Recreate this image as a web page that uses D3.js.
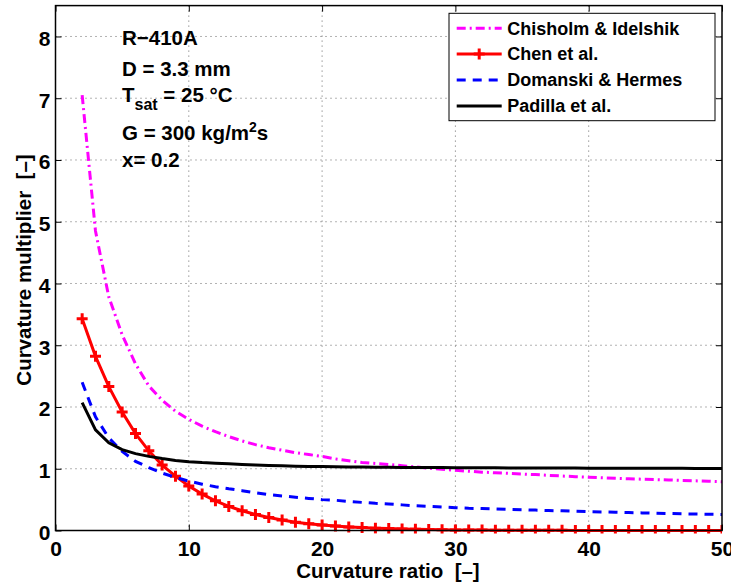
<!DOCTYPE html>
<html><head><meta charset="utf-8">
<script src="https://cdn.jsdelivr.net/npm/d3@7"></script>
<style>body{margin:0;background:#fff}svg{display:block}text{font-family:"Liberation Sans",Arial,sans-serif;font-weight:bold}</style>
</head><body><svg id="c" width="731" height="584"></svg>
<script>
const xValues = [2,3,4,5,6,7,8,9,10,11,12,13,14,15,16,17,18,19,20,21,22,23,24,25,26,27,28,29,30,31,32,33,34,35,36,37,38,39,40,41,42,43,44,45,46,47,48,49,50];
const chisholm = [7.05,4.85,3.78,3.17,2.70,2.34,2.11,1.93,1.80,1.69,1.60,1.52,1.45,1.39,1.34,1.30,1.26,1.23,1.20,1.16,1.13,1.10,1.085,1.07,1.05,1.03,1.01,0.99,0.975,0.96,0.945,0.935,0.925,0.915,0.905,0.893,0.882,0.872,0.862,0.855,0.846,0.838,0.831,0.825,0.818,0.811,0.804,0.797,0.79];
const chen = [3.43,2.82,2.33,1.92,1.57,1.29,1.06,0.88,0.72,0.59,0.48,0.39,0.32,0.26,0.21,0.17,0.135,0.11,0.09,0.072,0.058,0.047,0.038,0.031,0.025,0.02,0.016,0.013,0.01,0.008,0.007,0.006,0.005,0.004,0.004,0.003,0.003,0.002,0.002,0.002,0.002,0.001,0.001,0.001,0.001,0.001,0.001,0.001,0.001];
const domanski = [2.40,1.84,1.50,1.28,1.12,1.02,0.93,0.86,0.80,0.75,0.71,0.675,0.645,0.61,0.58,0.56,0.54,0.52,0.50,0.49,0.47,0.455,0.44,0.43,0.415,0.40,0.39,0.38,0.37,0.36,0.355,0.35,0.343,0.337,0.33,0.324,0.318,0.311,0.305,0.30,0.295,0.29,0.285,0.28,0.275,0.27,0.267,0.263,0.26];
const padilla = [2.07,1.63,1.42,1.31,1.245,1.20,1.165,1.135,1.115,1.10,1.09,1.08,1.07,1.06,1.053,1.047,1.042,1.038,1.035,1.032,1.03,1.028,1.026,1.024,1.022,1.021,1.02,1.019,1.018,1.017,1.016,1.015,1.014,1.013,1.012,1.012,1.011,1.011,1.01,1.01,1.009,1.009,1.008,1.008,1.007,1.007,1.006,1.006,1.005];
const seriesNames = ["Chisholm & Idelshik","Chen et al.","Domanski & Hermes","Padilla et al."];
const seriesColors = ["#ff00ff","#ff0000","#0000ff","#000000"];
const seriesDash = ["9,4,2,4",null,"9,7",null];
const xTicks = [0,10,20,30,40,50];
const yTicks = [0,1,2,3,4,5,6,7,8];
const annotations = ["R\u2212410A","D = 3.3 mm","T_sat = 25 \u00B0C","G = 300 kg/m2s","x= 0.2"];

const svg = d3.select("#c");
const L=55.5, R=722, T=5.6, B=530.5;
const x = d3.scaleLinear().domain([0,50]).range([L,R]);
const y = d3.scaleLinear().domain([0,8.5]).range([B,T]);

// grid
const g = svg.append("g");
g.selectAll(".gx").data(xTicks.filter(d=>d>0&&d<50)).enter().append("line")
 .attr("x1",d=>x(d)).attr("x2",d=>x(d)).attr("y1",T).attr("y2",B)
 .attr("stroke","#666").attr("stroke-width",1).attr("stroke-dasharray","1,4");
g.selectAll(".gy").data(yTicks.filter(d=>d>0)).enter().append("line")
 .attr("y1",d=>y(d)).attr("y2",d=>y(d)).attr("x1",L).attr("x2",R)
 .attr("stroke","#666").attr("stroke-width",1).attr("stroke-dasharray","1,4");

// axes (ticks inside)
const tl=6;
const axB = svg.append("g").attr("transform",`translate(0,${B})`).call(d3.axisBottom(x).tickValues(xTicks).tickSize(-tl).tickPadding(11));
const axT = svg.append("g").attr("transform",`translate(0,${T})`).call(d3.axisTop(x).tickValues(xTicks).tickSize(-tl).tickFormat(""));
const axL = svg.append("g").attr("transform",`translate(${L},0)`).call(d3.axisLeft(y).tickValues(yTicks).tickSize(-tl).tickPadding(5));
const axR = svg.append("g").attr("transform",`translate(${R},0)`).call(d3.axisRight(y).tickValues(yTicks).tickSize(-tl).tickFormat(""));
[axB,axT,axL,axR].forEach(a=>{a.select(".domain").remove();a.selectAll("line").attr("stroke","#000").attr("stroke-width",1);
 a.selectAll("text").attr("font-size",21).attr("font-family","Liberation Sans, Arial").attr("font-weight","bold").attr("fill","#000");});
axB.selectAll("text").attr("dy","0.71em");
axL.selectAll("text").attr("dy","0.42em");

const line = d3.line().x((d,i)=>x(xValues[i])).y(d=>y(d));
const seriesData=[chisholm,chen,domanski,padilla];
svg.append("clipPath").attr("id","cp").append("rect").attr("x",L).attr("y",T).attr("width",R-L).attr("height",B-T+3);
seriesData.forEach((s,k)=>{
  svg.append("path").datum(s).attr("d",line).attr("fill","none")
   .attr("stroke",seriesColors[k]).attr("stroke-width",3)
   .attr("stroke-dasharray",seriesDash[k]).attr("clip-path","url(#cp)");
  if(k===1){
    const m = 5.5;
    svg.append("g").attr("clip-path","url(#cp)").selectAll("path").data(s).enter().append("path")
     .attr("d",(d,i)=>{const px=x(xValues[i]),py=y(d);return `M${px-m},${py}H${px+m}M${px},${py-m}V${py+m}`;})
     .attr("stroke",seriesColors[k]).attr("stroke-width",3).attr("fill","none");
  }
});

// box
svg.append("rect").attr("x",L).attr("y",T).attr("width",R-L).attr("height",B-T)
 .attr("fill","none").attr("stroke","#000").attr("stroke-width",1.5);

// annotations
const ax0 = 122, aBase = [45,75.5,102,139.5,167];
annotations.forEach((t,i)=>{
  const te = svg.append("text").attr("x",ax0).attr("y",aBase[i]).attr("font-size",20.5).attr("fill","#000");
  if(t.startsWith("T_sat")){
    te.append("tspan").text("T");
    te.append("tspan").text("sat").attr("dy",8).attr("font-size",16);
    te.append("tspan").text(t.slice(5)).attr("dy",-8);
  } else if(t.includes("m2s")){
    const p=t.split("m2s")[0];
    te.append("tspan").text(p+"m");
    te.append("tspan").text("2").attr("dy",-8).attr("font-size",14);
    te.append("tspan").text("s").attr("dy",8);
  } else te.text(t);
});

// legend
const lg = svg.append("g");
lg.append("rect").attr("x",449).attr("y",13.3).attr("width",266).attr("height",107.4)
 .attr("fill","#fff").attr("stroke","#000").attr("stroke-width",1);
const ly=[28.3,54,80,106];
seriesNames.forEach((n,k)=>{
  lg.append("line").attr("x1",456.7).attr("x2",501.7).attr("y1",ly[k]).attr("y2",ly[k])
   .attr("stroke",seriesColors[k]).attr("stroke-width",3).attr("stroke-dasharray",seriesDash[k]);
  if(k===1) lg.append("path").attr("d",`M${479.2-5.5},${ly[k]}H${479.2+5.5}M${479.2},${ly[k]-5.5}V${ly[k]+5.5}`)
   .attr("stroke",seriesColors[k]).attr("stroke-width",3);
  lg.append("text").attr("x",507.3).attr("y",ly[k]).attr("dy","0.36em").attr("font-size",18).text(n);
});

// axis labels
svg.append("text").attr("x",388).attr("y",578).attr("text-anchor","middle").attr("font-size",20.5).attr("xml:space","preserve").text("Curvature ratio  [\u2013]");
svg.append("text").attr("transform",`translate(31,270) rotate(-90)`).attr("text-anchor","middle").attr("font-size",20.5).attr("xml:space","preserve").text("Curvature multiplier  [\u2013]");
</script></body></html>
